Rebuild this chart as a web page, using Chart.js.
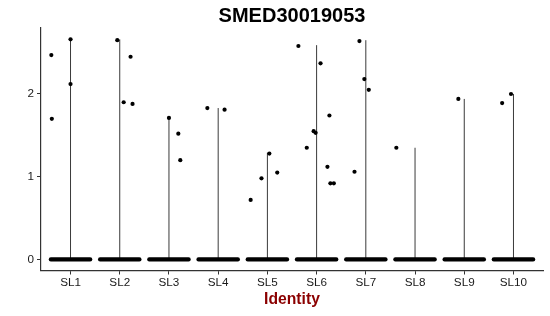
<!DOCTYPE html>
<html>
<head>
<meta charset="utf-8">
<script src="https://cdn.jsdelivr.net/npm/chart.js@4/dist/chart.umd.min.js"></script>
<style>
  html, body { margin: 0; padding: 0; background: #fff; }
  #wrap { width: 550px; height: 316px; }
</style>
</head>
<body>
<div id="wrap"><canvas id="c" width="550" height="316"></canvas></div>
<script>
// ---- data ----
const chartTitle = 'SMED30019053';
const xTitle = 'Identity';
const categories = ['SL1', 'SL2', 'SL3', 'SL4', 'SL5', 'SL6', 'SL7', 'SL8', 'SL9', 'SL10'];
const yTicks = [0, 1, 2];
// top of each (very thin) violin
const violinMax = [2.67, 2.66, 1.71, 1.83, 1.29, 2.59, 2.65, 1.35, 1.94, 2.00];
// non-zero cells: group index (1-based), jitter offset, expression value
const pointGroup  = [1, 1, 1, 1,  2, 2, 2, 2,  3, 3, 3,  4, 4,  5, 5, 5, 5,  6, 6, 6, 6, 6, 6, 6, 6, 6,  7, 7, 7, 7,  8,  9,  10, 10];
const pointOffset = [-0.39, -0.38, 0.0, 0.0,  -0.05, 0.22, 0.08, 0.26,  0.0, 0.19, 0.23,  -0.22, 0.13,  -0.34, -0.12, 0.04, 0.20,  -0.37, 0.08, -0.20, -0.06, -0.02, 0.26, 0.22, 0.28, 0.35,  -0.13, -0.03, 0.06, -0.23,  -0.38,  -0.12,  -0.23, -0.05];
const pointValue  = [2.47, 1.70, 2.66, 2.12,  2.65, 2.45, 1.90, 1.88,  1.71, 1.52, 1.20,  1.83, 1.81,  0.72, 0.98, 1.28, 1.05,  2.58, 2.37, 1.35, 1.55, 1.53, 1.74, 1.12, 0.92, 0.92,  2.64, 2.18, 2.05, 1.06,  1.35,  1.94,  1.89, 2.00];
// half-width of the jitter band holding the many zero-valued cells
const zeroBandHalfWidth = 0.40;

const FONT = "'Liberation Sans', Arial, Helvetica, sans-serif";

const datasets = [];
// points (drawn on top: first dataset)
datasets.push({
  type: 'scatter',
  data: pointValue.map((v, i) => ({ x: pointGroup[i] + pointOffset[i], y: v })),
  backgroundColor: '#000',
  borderColor: '#000',
  pointRadius: 2.1,
  borderWidth: 0,
  clip: false
});
// zero bands
categories.forEach((c, i) => {
  datasets.push({
    type: 'line',
    data: [{ x: i + 1 - zeroBandHalfWidth, y: 0 }, { x: i + 1 + zeroBandHalfWidth, y: 0 }],
    borderColor: '#000',
    borderWidth: 4.2,
    borderCapStyle: 'round',
    pointRadius: 0,
    clip: false
  });
});
// violins (collapsed to lines)
categories.forEach((c, i) => {
  datasets.push({
    type: 'line',
    data: [{ x: i + 1, y: 0 }, { x: i + 1, y: violinMax[i] }],
    borderColor: '#3a3a3a',
    borderWidth: 1,
    pointRadius: 0,
    clip: false
  });
});

new Chart(document.getElementById('c'), {
  type: 'scatter',
  data: { datasets },
  options: {
    responsive: false,
    animation: false,
    devicePixelRatio: 1,
    layout: { padding: { left: 0, right: 7, top: 0, bottom: 0 } },
    plugins: {
      legend: { display: false },
      tooltip: { enabled: false },
      title: {
        display: true,
        text: chartTitle,
        fullSize: false,
        color: '#000',
        font: { family: FONT, size: 20, weight: 'bold', lineHeight: 1.1 },
        padding: { top: 5.5, bottom: 0 }
      }
    },
    scales: {
      x: {
        type: 'linear',
        min: 0.4,
        max: 10.6,
        afterBuildTicks: (s) => { s.ticks = categories.map((c, i) => ({ value: i + 1 })); },
        afterFit: (s) => { s.height = 45.5; },
        ticks: {
          autoSkip: false,
          maxRotation: 0,
          padding: 1.5,
          color: '#1a1a1a',
          font: { family: FONT, size: 11.7 },
          callback: (v) => categories[Math.round(v) - 1]
        },
        grid: { drawOnChartArea: false, drawTicks: true, tickLength: 4, color: '#333', lineWidth: 1 },
        border: { display: true, color: '#333', width: 1.2 },
        title: {
          display: true,
          text: xTitle,
          color: '#8B0000',
          font: { family: FONT, size: 15.7, weight: 'bold', lineHeight: 1.2 },
          padding: { top: 0, bottom: 7 }
        }
      },
      y: {
        type: 'linear',
        min: -0.1335,
        max: 2.8035,
        afterBuildTicks: (s) => { s.ticks = yTicks.map(v => ({ value: v })); },
        afterFit: (s) => { s.width = 41; },
        ticks: {
          padding: 3,
          color: '#1a1a1a',
          font: { family: FONT, size: 11.7 },
          callback: (v) => String(v)
        },
        grid: { drawOnChartArea: false, drawTicks: true, tickLength: 4, color: '#333', lineWidth: 1 },
        border: { display: true, color: '#333', width: 1.2 }
      }
    }
  }
});
</script>
</body>
</html>
